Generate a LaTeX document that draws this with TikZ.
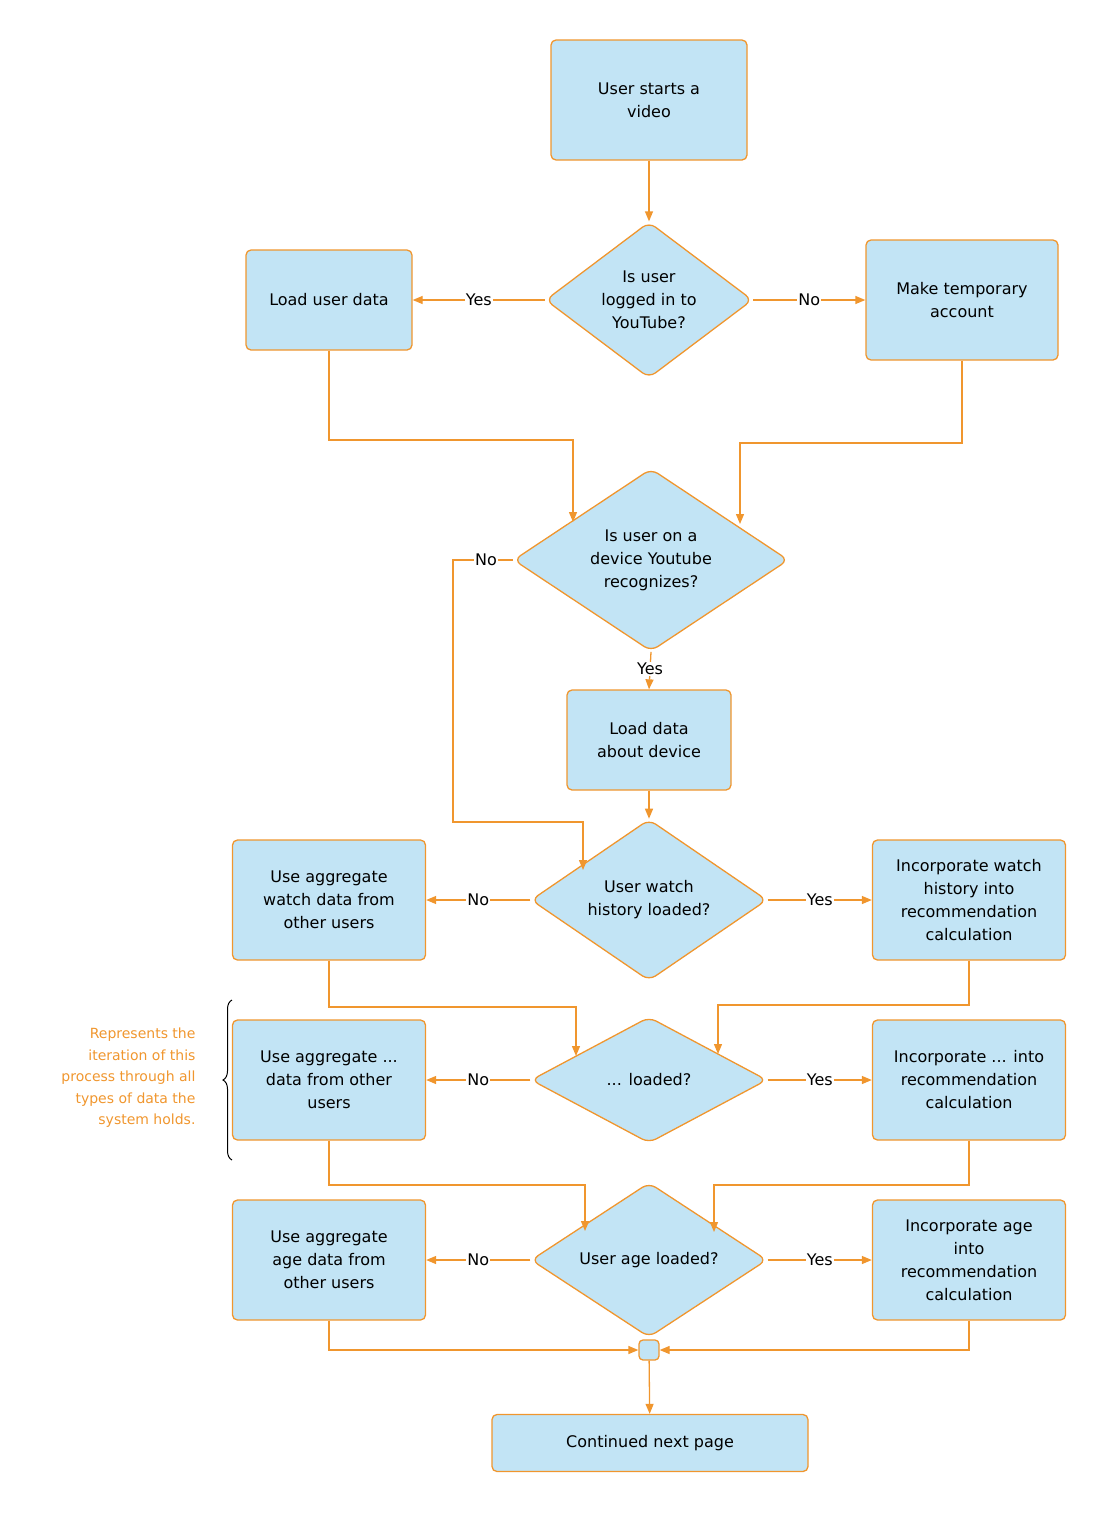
\documentclass[tikz,border=0pt]{standalone}
\usepackage{fontspec}
\setmainfont{DejaVu Sans}
\usetikzlibrary{shapes.geometric,arrows.meta,decorations.pathreplacing}
\definecolor{boxfill}{HTML}{C2E4F5}
\definecolor{edge}{HTML}{F0962E}
\begin{document}
\begin{tikzpicture}[x=1pt,y=-1pt,
  font=\fontsize{16}{23}\selectfont,
  box/.style={draw=edge,fill=boxfill,line width=1.3pt,rounded corners=5pt,align=center,inner sep=2pt},
  dia/.style={draw=edge,fill=boxfill,line width=1.3pt,diamond,rounded corners=8pt,align=center,inner sep=0pt},
  conn/.style={draw=edge,line width=1.3pt,-{Triangle[length=10pt,width=8pt]}},
  lbl/.style={fill=white,inner sep=1pt}]
\useasboundingbox (0,0) rectangle (1106,1513);
\node[box,minimum width=196pt,minimum height=120pt] (start) at (649,100) {User starts a\\video};
\node[dia,minimum width=207pt,minimum height=156pt] (d1) at (649,300) {Is user\\logged in to\\YouTube?};
\node[box,minimum width=166pt,minimum height=100pt] (lud) at (329,300) {Load user data};
\node[box,minimum width=192pt,minimum height=120pt] (tmp) at (962,300) {Make temporary\\account};
\node[dia,minimum width=275pt,minimum height=176pt] (d2) at (651,560) {Is user on a\\device Youtube\\recognizes?};
\node[box,minimum width=164pt,minimum height=100pt] (ldev) at (649,740) {Load data\\about device};
\node[dia,minimum width=236pt,minimum height=136pt] (d3) at (649,900) {User watch\\history loaded?};
\node[box,minimum width=193pt,minimum height=120pt] (aggw) at (329,900) {Use aggregate\\watch data from\\other users};
\node[box,minimum width=193pt,minimum height=120pt] (incw) at (969,900) {Incorporate watch\\history into\\recommendation\\calculation};
\node[dia,minimum width=236pt,minimum height=126pt] (d4) at (649,1080) {... loaded?};
\node[box,minimum width=193pt,minimum height=120pt] (aggx) at (329,1080) {Use aggregate ...\\data from other\\users};
\node[box,minimum width=193pt,minimum height=120pt] (incx) at (969,1080) {Incorporate ... into\\recommendation\\calculation};
\node[dia,minimum width=236pt,minimum height=126pt] (d5) at (649,1260) {User age loaded?};
\node[box,minimum width=193pt,minimum height=120pt] (agga) at (329,1260) {Use aggregate\\age data from\\other users};
\node[box,minimum width=193pt,minimum height=120pt] (inca) at (969,1260) {Incorporate age\\into\\recommendation\\calculation};
\node[draw=edge,fill=boxfill,line width=1.3pt,rounded corners=4pt,minimum size=20pt,inner sep=0pt] (j) at (649,1350) {};
\node[box,minimum width=316pt,minimum height=57pt] (cont) at (650,1443) {Continued next page};
\node[align=right,anchor=east,text=edge,font=\fontsize{14}{21.5}\selectfont] (note) at (199,1078) {Represents the\\iteration of this\\process through all\\types of data the\\system holds.};
\draw[line width=1pt,decorate,decoration={brace,amplitude=9pt}] (232,1160) -- (232,1000);

\draw[conn] (start) -- (d1);
\draw[conn] (d1) -- node[lbl]{Yes} (lud);
\draw[conn] (d1) -- node[lbl]{No} (tmp);
\draw[conn] (lud.south) |- (573,440) -- (573,522);
\draw[conn] (tmp.south) |- (740,443) -- (740,524);
\draw[conn] (d2.west) -- node[lbl,pos=0.45]{No} (453,560) |- (583,822) -- (583,870);
\draw[conn] (d2.south) -- node[lbl,pos=0.45]{Yes} (ldev.north);
\draw[conn] (ldev) -- (d3);
\draw[conn] (d3) -- node[lbl]{No} (aggw);
\draw[conn] (d3) -- node[lbl]{Yes} (incw);
\draw[conn] (aggw.south) |- (576,1007) -- (576,1056);
\draw[conn] (incw.south) |- (718,1005) -- (718,1054);
\draw[conn] (d4) -- node[lbl]{No} (aggx);
\draw[conn] (d4) -- node[lbl]{Yes} (incx);
\draw[conn] (aggx.south) |- (585,1185) -- (585,1231);
\draw[conn] (incx.south) |- (714,1185) -- (714,1232);
\draw[conn] (d5) -- node[lbl]{No} (agga);
\draw[conn] (d5) -- node[lbl]{Yes} (inca);
\draw[conn] (agga.south) |- (j.west);
\draw[conn] (inca.south) |- (j.east);
\draw[conn] (j) -- (cont);
\end{tikzpicture}
\end{document}
